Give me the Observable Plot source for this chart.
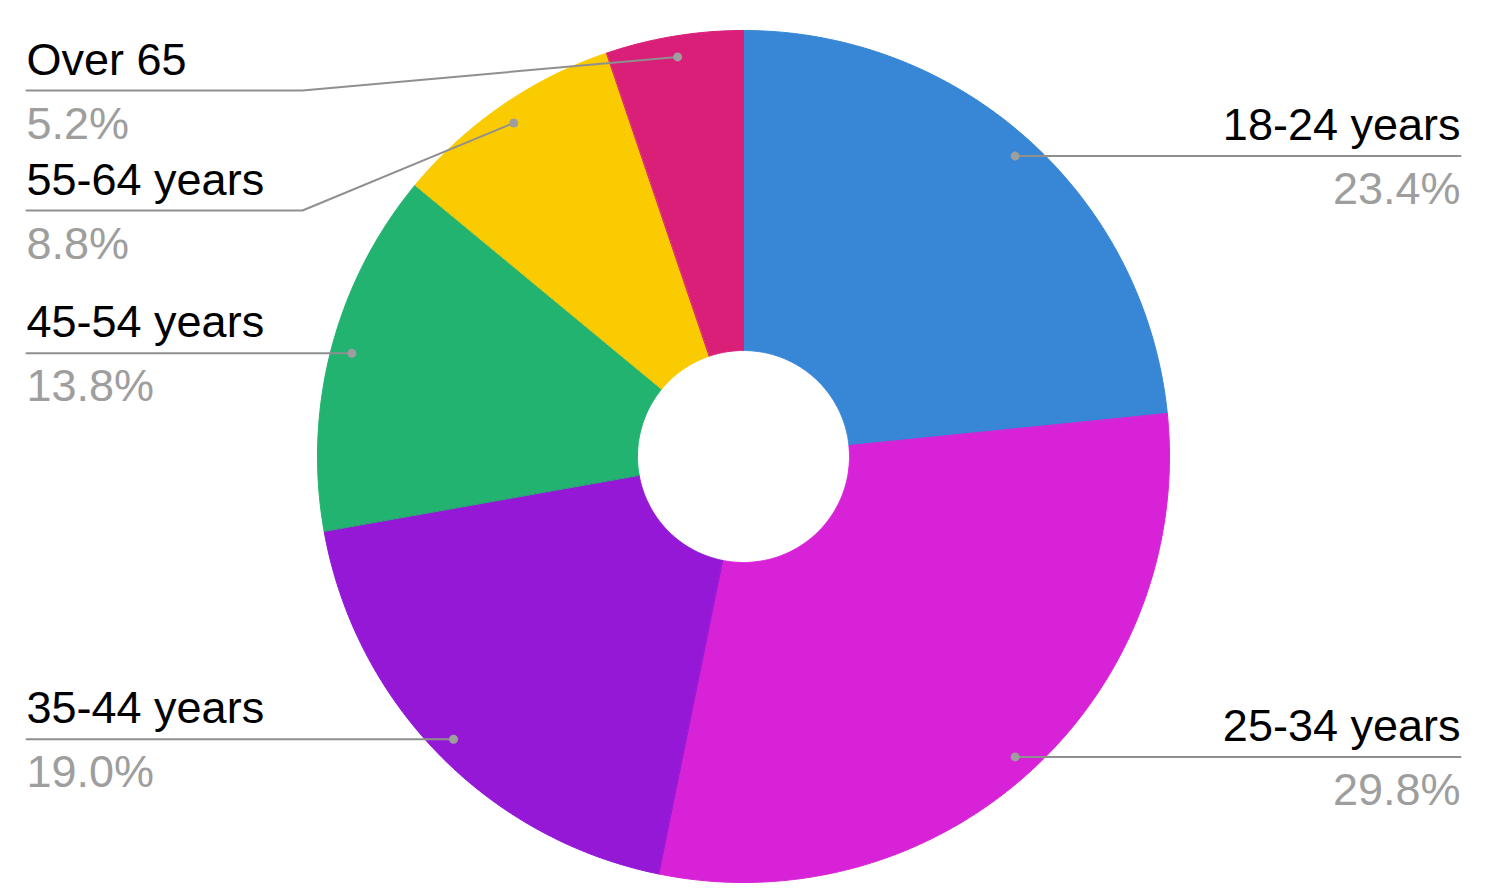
<!DOCTYPE html>
<html><head><meta charset="utf-8">
<script src="https://cdn.jsdelivr.net/npm/d3@7"></script>
<script src="https://cdn.jsdelivr.net/npm/@observablehq/plot@0.6"></script>
<style>html,body{margin:0;padding:0;background:#fff;overflow:hidden;}</style>
</head><body><div id="chart"></div>
<script>
// ---- data ----
const categories = ["18-24 years", "25-34 years", "35-44 years", "45-54 years", "55-64 years", "Over 65"];
const shares = [23.4, 29.8, 19.0, 13.8, 8.8, 5.2];
const colors = ["#3787d6", "#d822d7", "#9418d5", "#21b36f", "#fbcb02", "#da1f79"];

// ---- layout (pixels) ----
const W = 1486, H = 892, CX = 743, CY = 456;
const R = 426, R0 = 106, RDOT = 405;
const LABEL_X = 717, ELBOW_X = 441, MIN_LINE_TOP = 90, LABEL_GAP = 120;
const FONT = "'Liberation Sans', Arial, sans-serif";

// data coords: x = px - CX, y = CY - py (up positive); angle clockwise from 12 o'clock
const total = d3.sum(shares);
const pt = (r, a) => ({x: r * Math.sin(a), y: r * Math.cos(a)});
let cum = 0;
const slices = categories.map((c, i) => {
  const a0 = cum / total * 2 * Math.PI;
  cum += shares[i];
  const a1 = cum / total * 2 * Math.PI;
  return {cat: c, i, a0, a1, mid: (a0 + a1) / 2};
});

const polys = slices.map(s => {
  const n = Math.max(8, Math.ceil((s.a1 - s.a0) / 0.01));
  const outer = d3.range(n + 1).map(k => pt(R, s.a0 + (s.a1 - s.a0) * k / n));
  const inner = d3.range(n + 1).map(k => pt(R0, s.a1 - (s.a1 - s.a0) * k / n));
  return outer.concat(inner);
});

// dots & label positions
const dots = slices.map(s => ({...pt(RDOT, s.mid), cat: s.cat, i: s.i, side: s.mid < Math.PI ? 1 : -1}));
const labels = [];
for (const side of [-1, 1]) {
  const group = dots.filter(d => d.side === side).sort((a, b) => b.y - a.y);
  let prev = -Infinity; // in pixel y (down positive)
  for (const d of group) {
    const py = CY - d.y;
    const ly = Math.max(py, MIN_LINE_TOP, prev + LABEL_GAP);
    prev = ly;
    labels.push({...d, lineY: CY - ly});
  }
}
const leaders = labels.flatMap(l => [
  {cat: l.cat, x: l.x, y: l.y},
  {cat: l.cat, x: l.side * ELBOW_X, y: l.lineY},
  {cat: l.cat, x: l.side * LABEL_X, y: l.lineY}
]);
const leftLabels = labels.filter(l => l.side < 0);
const rightLabels = labels.filter(l => l.side > 0);

const textMarks = (data, anchor) => [
  Plot.text(data, {x: d => d.side * LABEL_X, y: d => d.lineY + 16, text: "cat", textAnchor: anchor, lineAnchor: "bottom", fontSize: 45, fill: "#000", fontFamily: FONT}),
  Plot.text(data, {x: d => d.side * LABEL_X, y: d => d.lineY - 48, text: d => shares[d.i].toFixed(1) + "%", textAnchor: anchor, lineAnchor: "bottom", fontSize: 45, fill: "#9e9e9e", fontFamily: FONT})
];

const chart = Plot.plot({
  width: W, height: H, margin: 0,
  x: {domain: [-CX, W - CX], axis: null},
  y: {domain: [CY - H, CY], axis: null},
  style: {background: "#fff", fontFamily: FONT, overflow: "visible"},
  marks: [
    ...slices.map(s => Plot.line(polys[s.i], {x: "x", y: "y", fill: colors[s.i], stroke: colors[s.i], strokeWidth: 1, curve: "linear-closed"})),
    Plot.line(leaders, {x: "x", y: "y", z: "cat", stroke: "#8f8f8f", strokeWidth: 2}),
    Plot.dot(dots, {x: "x", y: "y", r: 4.5, fill: "#9e9e9e", stroke: "none"}),
    ...textMarks(leftLabels, "start"),
    ...textMarks(rightLabels, "end")
  ]
});
document.getElementById("chart").appendChild(chart);
</script>
</body></html>
